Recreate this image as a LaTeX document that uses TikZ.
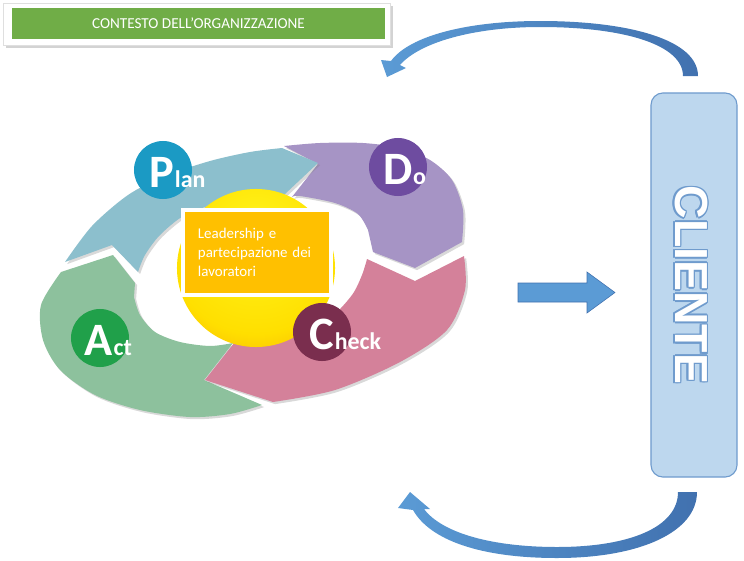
\documentclass[tikz,border=0pt]{standalone}
\usepackage{fontspec}
\setmainfont{Carlito}
\newfontfamily\clifont{Liberation Sans}
\usepackage{tikz}
\usetikzlibrary{positioning,shapes,arrows.meta,shadows,calc}
\definecolor{titlegreen}{RGB}{112,173,71}
\definecolor{plancol}{RGB}{140,191,205}
\definecolor{docol}{RGB}{166,148,197}
\definecolor{checkcol}{RGB}{212,129,154}
\definecolor{actcol}{RGB}{141,193,157}
\definecolor{plandot}{RGB}{27,154,196}
\definecolor{dodot}{RGB}{110,76,160}
\definecolor{checkdot}{RGB}{122,46,78}
\definecolor{actdot}{RGB}{32,160,74}
\definecolor{leadorange}{RGB}{255,192,0}
\definecolor{clifill}{RGB}{189,215,238}
\definecolor{cliline}{RGB}{111,155,205}
\definecolor{flowblue}{RGB}{91,155,213}
\definecolor{darkflow}{RGB}{65,113,175}
\definecolor{sunyellow}{RGB}{255,238,20}
\definecolor{sunorange}{RGB}{248,168,8}
\pgfdeclareradialshading{sunball}{\pgfpoint{0cm}{0.4cm}}{%
      color(0cm)=(sunyellow!55!white); color(0.35cm)=(sunyellow); color(1cm)=(yellow!75!orange);
      color(1.55cm)=(sunorange); color(3cm)=(sunorange)}
\tikzstyle{frm}=[%
      rectangle, draw=gray!25, fill=white, drop shadow={opacity=0.35},
      minimum width=9.675cm, minimum height=1.05cm, inner sep=0pt
]
\tikzstyle{ttl}=[%
      rectangle, fill=titlegreen, text=white, font=\fontsize{10.8}{12}\selectfont,
      minimum width=9.325cm, minimum height=0.75cm, inner sep=0pt
]
\tikzstyle{seg}=[%
      drop shadow={opacity=0.3, shadow xshift=1.5pt, shadow yshift=-1.5pt}
]
\tikzstyle{lead}=[%
      rectangle, draw=white, line width=2.8pt, fill=leadorange,
      drop shadow={opacity=0.3, shadow xshift=1pt, shadow yshift=-1pt},
      minimum width=3.7cm, minimum height=2.125cm, text width=2.95cm, align=left,
      text=white, font=\fontsize{10.6}{13.5}\selectfont, inner sep=0pt
]
\tikzstyle{dot}=[%
      circle, minimum size=1.45cm, inner sep=0pt
]
\tikzstyle{big}=[%
      text=white, font=\fontsize{33}{33}\selectfont\bfseries, inner sep=0pt
]
\tikzstyle{sml}=[%
      text=white, font=\fontsize{17}{17}\selectfont\bfseries, inner sep=0pt, anchor=base west
]
\tikzstyle{cli}=[%
      rectangle, rounded corners=0.3cm, draw=cliline, line width=0.8pt, fill=clifill,
      minimum width=2.15cm, minimum height=9.6cm
]
\tikzstyle{clitext}=[%
      rotate=-90, font=\clifont\bfseries\fontsize{33}{33}\selectfont, inner sep=0pt
]

\begin{document}
\begin{tikzpicture}[x=0.025cm, y=-0.025cm]
    \useasboundingbox (0,0) rectangle (744,560);

    % title banner
    \node[frm] (frame) at (196.5,24) {};
    \node[ttl] (title) at (198.5,23.5) {CONTESTO DELL’ORGANIZZAZIONE};

    % PDCA ring: act, check, do, plan
    \fill[seg, actcol] plot[smooth] coordinates {(262,405) (230,414) (190,417) (140,410) (95,395) (60,370) (43,340) (41,305) (61,272)}
        -- (113,255) -- (135,283)
        -- plot[smooth] coordinates {(134,297) (140,315) (155,332) (180,342) (210,346) (233,343)}
        -- (204,380) -- cycle;
    \fill[seg, checkcol] plot[smooth] coordinates {(464,256) (465,290) (447,330) (400,362) (335,390) (273,402)}
        -- (205,380) -- (238,338)
        -- plot[smooth] coordinates {(262,344) (295,336) (330,318) (352,295) (362,275) (367,259)}
        -- (415,281) -- cycle;
    \fill[seg, docol] plot[smooth] coordinates {(284,146) (320,143) (363,143) (400,148) (430,160) (452,180) (463,210) (462,242)}
        -- (415,268) -- (373,252)
        -- plot[smooth] coordinates {(368,230) (358,214) (335,203) (300,196) (292,197)}
        -- (318,164) -- cycle;
    \fill[seg, plancol] plot[smooth] coordinates {(65,262) (92,226) (128,195) (165,176) (210,161) (250,152) (282,148)}
        -- (318,163) -- (268,210)
        -- plot[smooth] coordinates {(258,200) (220,203) (185,215) (160,235) (145,255) (138,272)}
        -- (112,245) -- cycle;

    \node[circle, minimum size=3.95cm, shading=sunball] (sun) at (256,268) {};
    \node[lead] (lead) at (257,252.5) {Leadership e\\partecipazione dei\\lavoratori};

    \node[dot, fill=plandot] (plan) at (163,170) {};
    \node[big] (P) at (162,172) {P};
    \node[sml] at (P.base east) {lan};
    \node[dot, fill=dodot] (do) at (398,167) {};
    \node[big] (D) at (398,169) {D};
    \node[sml] at (D.base east) {o};
    \node[dot, fill=checkdot] (check) at (322,332) {};
    \node[big] (C) at (322,334) {C};
    \node[sml] at (C.base east) {heck};
    \node[dot, fill=actdot] (act) at (100,338) {};
    \node[big] (A) at (99,340) {A};
    \node[sml] at (A.base east) {ct};

    % flow to the customer
    \fill[flowblue, draw=darkflow, line width=0.4pt] (518,283) -- (587,283) -- (587,272) -- (615,292.5)
        -- (587,313) -- (587,302) -- (518,302) -- cycle;

    % customer
    \node[cli] (cliente) at (694,285) {};
    \foreach \dx/\dy in {1.1/0, -1.1/0, 0/1.1, 0/-1.1, 0.8/0.8, -0.8/0.8, 0.8/-0.8, -0.8/-0.8}
      \node[clitext, text=cliline] at ($(691,285)+(\dx pt,\dy pt)$) {CLIENTE};
    \node[clitext, text=white] (clilabel) at (691,285) {CLIENTE};

    % feedback arrows
    \shade[left color=flowblue, right color=darkflow]
        (698,76) .. controls (698,40) and (630,21) .. (540,21) .. controls (470,21) and (410,35) .. (391,61)
        -- (381,60) -- (387,77) -- (406,68) -- (400,65)
        .. controls (420,42) and (475,27) .. (540,27) .. controls (625,27) and (683,45) .. (683,76) -- cycle;
    \shade[left color=flowblue, right color=darkflow]
        (697,492) .. controls (697,532) and (640,558) .. (557,558) .. controls (480,558) and (430,540) .. (413,510)
        -- (398,508) -- (410,492) -- (430,509) -- (424,509)
        .. controls (442,533) and (492,547) .. (557,547) .. controls (630,547) and (678,527) .. (678,492) -- cycle;
\end{tikzpicture}
\end{document}
